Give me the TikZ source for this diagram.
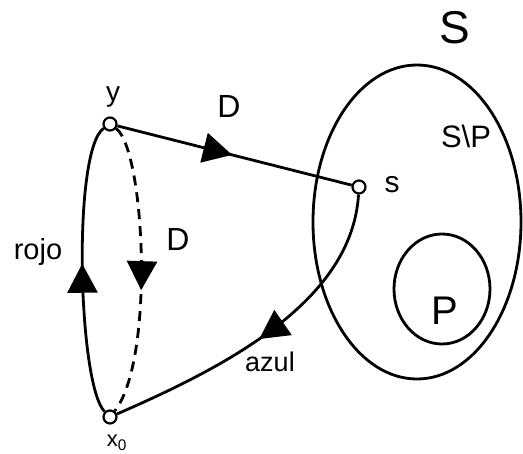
\documentclass[tikz,border=0pt]{standalone}
\usepackage{fontspec}
\setmainfont{Liberation Sans}
\usetikzlibrary{arrows.meta, decorations.markings, shapes.geometric}

\tikzset{
  pt/.style={circle, draw, fill=white, line width=2.2pt, inner sep=0pt, minimum size=13pt},
  lbl/.style={inner sep=0pt, font=\fontsize{#1}{#1}\selectfont},
  midarrow/.style={postaction={decorate, decoration={markings,
    mark=at position #1 with {\arrow{Triangle[length=29pt,width=30pt]}}}}}
}

\begin{document}
\begin{tikzpicture}[x=1pt, y=-1pt, line width=2.8pt]
\useasboundingbox (0,0) rectangle (523,454);

% the sets
\node[ellipse, draw, inner sep=0pt, minimum width=208pt, minimum height=314pt] (setS) at (417,222) {};
\node[ellipse, draw, inner sep=0pt, minimum width=96pt, minimum height=110pt] (setP) at (442,289) {};

% points
\node[pt] (y) at (110,124) {};
\node[pt] (s) at (359,187) {};
\node[pt] (x0) at (110,417) {};

% paths
\draw[midarrow=0.49] (y) -- (s);
\draw[midarrow=0.52] (x0) .. controls (78,385) and (72,150) .. (y);
\draw[midarrow=0.57, dash pattern=on 10pt off 7pt] (y) .. controls (145,150) and (155,360) .. (x0);
\draw[midarrow=0.53] (s) .. controls (352,300) and (230,365) .. (x0);

% labels
\node[lbl=46] (lS) at (455,27.5) {S};
\node[lbl=31, anchor=base] (lSP) at (466,148) {S\textbackslash P};
\node[lbl=40, anchor=base] (lP) at (445,325) {P};
\node[lbl=30] (ls) at (392,185) {s};
\node[lbl=28] (ly) at (113,97.5) {y};
\node[lbl=22, anchor=base] (lx) at (117,447) {x\textsubscript{0}};
\node[lbl=32] (lD1) at (229,106) {D};
\node[lbl=32] (lD2) at (178,239) {D};
\node[lbl=29, anchor=base] (lrojo) at (38,260) {rojo};
\node[lbl=27, anchor=base] (lazul) at (270,372) {azul};
\end{tikzpicture}
\end{document}
